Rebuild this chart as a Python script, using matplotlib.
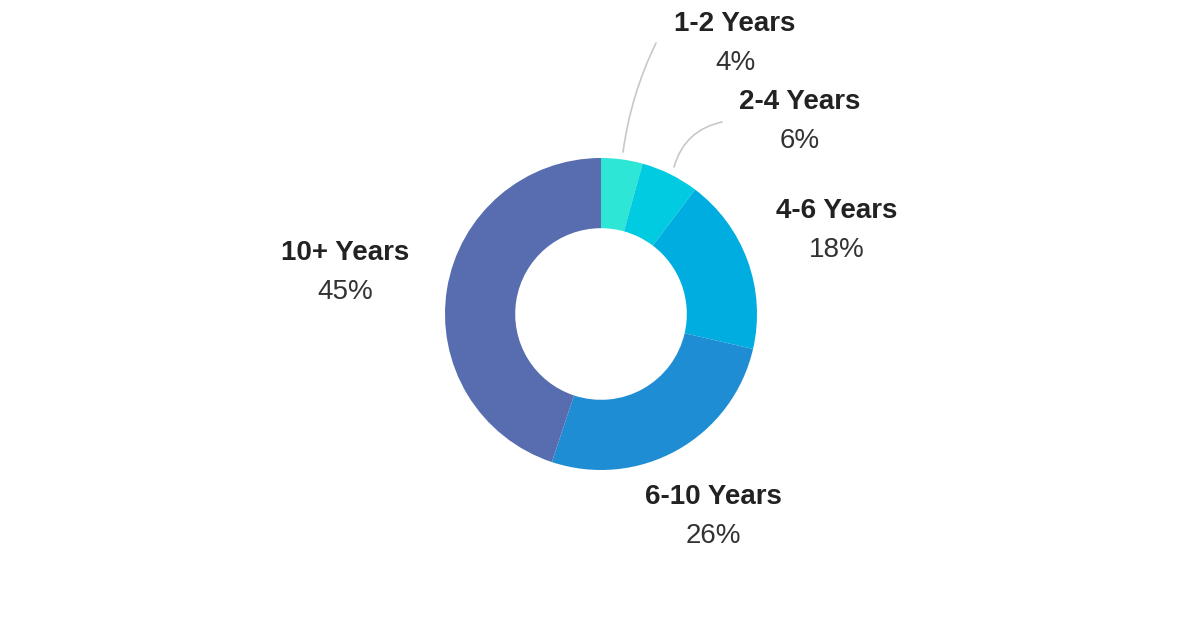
import matplotlib.pyplot as plt

plt.rcParams['font.family'] = ['Liberation Sans', 'DejaVu Sans']

labels = ['1-2 Years', '2-4 Years', '4-6 Years', '6-10 Years', '10+ Years']
pct_labels = ['4%', '6%', '18%', '26%', '45%']
values = [4.3, 6.0, 18.3, 26.5, 44.9]
colors = ['#2ee6d6', '#00cbe0', '#00ade0', '#1f8dd3', '#586cb0']

# label positions in pixels (x, y from top) for name / percent
label_px = [(735, 24), (800, 102), (837, 211), (713, 497), (345, 253)]

W, H = 1200, 628
cx, cy, R = 601, 314, 156


def px(x, y):
    return (x - cx) / R, (cy - y) / R


fig = plt.figure(figsize=(W / 100, H / 100), dpi=100)
ax = fig.add_axes([0, 0, 1, 1])
ax.pie(values, colors=colors, startangle=90, counterclock=False, radius=1,
       wedgeprops=dict(width=0.45, linewidth=0))
ax.set_xlim(-cx / R, (W - cx) / R)
ax.set_ylim(-(H - cy) / R, cy / R)
ax.set_aspect('auto')
ax.axis('off')

for lab, p, (x, y) in zip(labels, pct_labels, label_px):
    ax.text(*px(x, y), lab, ha='center', va='center', fontsize=20,
            fontweight='bold', color='#222222')
    ax.text(*px(x, y + 39), p, ha='center', va='center', fontsize=20,
            color='#333333')

# leader lines for the two small slices
ax.annotate('', xy=px(623, 152), xytext=px(656, 43),
            arrowprops=dict(arrowstyle='-', color='#c8c8c8', lw=1.2,
                            connectionstyle='arc3,rad=0.08',
                            shrinkA=0, shrinkB=0))
ax.annotate('', xy=px(674, 167), xytext=px(722, 122),
            arrowprops=dict(arrowstyle='-', color='#c8c8c8', lw=1.2,
                            connectionstyle='arc3,rad=0.3',
                            shrinkA=0, shrinkB=0))

fig.savefig('out.png', dpi=100, facecolor='white')
